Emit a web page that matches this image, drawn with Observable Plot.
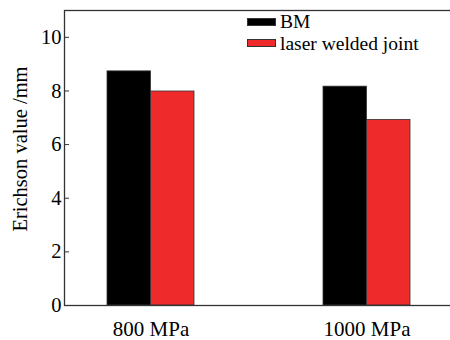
<!DOCTYPE html>
<html>
<head>
<meta charset="utf-8">
<script src="https://cdn.jsdelivr.net/npm/d3@7"></script>
<script src="https://cdn.jsdelivr.net/npm/@observablehq/plot@0.6"></script>
<style>
  html, body { margin: 0; padding: 0; background: #fff; }
  #wrap { position: relative; width: 450px; height: 340px; overflow: hidden; font-family: "Liberation Serif", "Times New Roman", serif; }
  .legend { position: absolute; left: 247px; top: 11px; font-size: 19.5px; line-height: 21.5px; color: #000; }
  .row { display: flex; align-items: center; white-space: nowrap; height: 21.5px; }
  .sw { width: 29px; height: 8px; margin-right: 4px; border: 1px solid #333; box-sizing: border-box; flex: none; }
</style>
</head>
<body>
<div id="wrap"></div>
<script>
const groups = ["800 MPa", "1000 MPa"];
const seriesNames = ["BM", "laser welded joint"];
const bmValues = [8.73, 8.16];
const laserValues = [7.98, 6.92];
const yTicks = [0, 2, 4, 6, 8, 10];
const colors = ["#000000", "#ee2a2a"];
const yLabel = "Erichson value /mm";

const W = 450, H = 340, ML = 64, MR = -2, MT = 10, MB = 35;
const pInner = 0.5985, pOuter = 0.194;
const step = (W - ML - MR) / (groups.length - pInner + 2 * pOuter);
const half = step * (1 - pInner) / 2;

const bm = groups.map((g, i) => ({group: g, value: bmValues[i]}));
const laser = groups.map((g, i) => ({group: g, value: laserValues[i]}));

const chart = Plot.plot({
  width: W, height: H,
  marginLeft: ML, marginRight: MR, marginTop: MT, marginBottom: MB,
  style: {fontFamily: "'Liberation Serif', 'Times New Roman', serif", fontSize: "20px", color: "#000", background: "#fff"},
  x: {domain: groups, paddingInner: pInner, paddingOuter: pOuter, axis: null},
  y: {domain: [0, 11], axis: null},
  marks: [
    Plot.barY(bm, {x: "group", y: "value", fill: colors[0], stroke: "#333", strokeWidth: 0.8, insetRight: half, insetLeft: 0}),
    Plot.barY(laser, {x: "group", y: "value", fill: colors[1], stroke: "#333", strokeWidth: 0.8, insetLeft: half, insetRight: 0}),
    Plot.frame({stroke: "#333", strokeWidth: 1.3}),
    Plot.axisY({ticks: yTicks, anchor: "left", tickSize: -5, tickPadding: 8, label: null, stroke: "#333", fontSize: 20.5}),
    Plot.axisX({anchor: "bottom", tickSize: 0, tickPadding: 16, label: null, fontSize: 21}),
    Plot.text([yLabel], {frameAnchor: "left", text: d => d, rotate: -90, textAnchor: "middle", dx: -44, dy: -9, fontSize: 20.5})
  ]
});
document.getElementById("wrap").appendChild(chart);

const leg = document.createElement("div");
leg.className = "legend";
seriesNames.forEach((n, i) => {
  const r = document.createElement("div");
  r.className = "row";
  const s = document.createElement("span");
  s.className = "sw";
  s.style.background = colors[i];
  const t = document.createElement("span");
  t.textContent = n;
  r.appendChild(s); r.appendChild(t);
  leg.appendChild(r);
});
document.getElementById("wrap").appendChild(leg);
</script>
</body>
</html>
